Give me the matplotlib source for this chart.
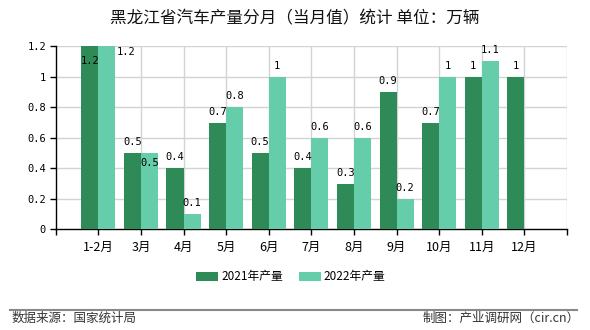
import matplotlib
matplotlib.use("Agg")
import matplotlib.pyplot as plt
from matplotlib.lines import Line2D
import numpy as np

plt.rcParams['font.family'] = ['Noto Sans CJK SC', 'DejaVu Sans']

categories = ["1-2月", "3月", "4月", "5月", "6月", "7月", "8月", "9月", "10月", "11月", "12月"]
values_2021 = [1.2, 0.5, 0.4, 0.7, 0.5, 0.4, 0.3, 0.9, 0.7, 1, 1]
values_2022 = [1.2, 0.5, 0.1, 0.8, 1, 0.6, 0.6, 0.2, 1, 1.1, None]
series_names = ["2021年产量", "2022年产量"]
colors = ["#2e8b57", "#66cdaa"]
title = "黑龙江省汽车产量分月（当月值）统计 单位：万辆"
source_text = "数据来源：国家统计局"
credit_text = "制图：产业调研网（cir.cn）"
yticks = [0, 0.2, 0.4, 0.6, 0.8, 1, 1.2]

fig = plt.figure(figsize=(5.9, 3.3), dpi=100)
ax = fig.add_axes([0.0944, 0.305, 0.961 - 0.0944, 0.860 - 0.305])

x = np.arange(len(categories))
w = 0.4
ymax = 1.2

for si, (vals, col) in enumerate(zip([values_2021, values_2022], colors)):
    xs = [xi for xi, v in zip(x, vals) if v is not None]
    vs = [v for v in vals if v is not None]
    ax.bar(np.array(xs) + (-w if si == 0 else 0), vs, width=w, align='edge',
           color=col, zorder=3, label=series_names[si])

mono = 'DejaVu Sans Mono'
lab_size = 7.5
for i in range(len(categories)):
    v1 = values_2021[i]
    v2 = values_2022[i]
    if v1 is not None:
        cx = x[i] - w / 2
        if v1 >= ymax:
            ax.annotate(f"{v1:g}", (cx, v1), xytext=(0, -10), textcoords='offset pixels',
                        ha='center', va='top', fontsize=lab_size, family=mono, zorder=5)
        else:
            ax.annotate(f"{v1:g}", (cx, v1), xytext=(0, 6), textcoords='offset pixels',
                        ha='center', va='bottom', fontsize=lab_size, family=mono, zorder=5)
    if v2 is not None:
        cx = x[i] + w / 2
        if v2 >= ymax:
            ax.annotate(f"{v2:g}", (x[i] + w, v2), xytext=(1, -1), textcoords='offset pixels',
                        ha='left', va='top', fontsize=lab_size, family=mono, zorder=5)
        elif v1 is not None and v1 == v2:
            ax.annotate(f"{v2:g}", (cx, v2), xytext=(0, -5), textcoords='offset pixels',
                        ha='center', va='top', fontsize=lab_size, family=mono, zorder=5)
        else:
            ax.annotate(f"{v2:g}", (cx, v2), xytext=(0, 6), textcoords='offset pixels',
                        ha='center', va='bottom', fontsize=lab_size, family=mono, zorder=5)

ax.set_xlim(-1, len(categories))
ax.set_ylim(0, ymax)
ax.set_yticks(yticks)
ax.set_yticklabels([f"{t:g}" for t in yticks], family=mono, fontsize=lab_size)
ax.set_xticks(np.arange(-1, len(categories) + 1))
ax.set_xticklabels([""] + categories + [""], fontsize=9)
ax.tick_params(axis='both', length=4, width=1, color='black', pad=3)
ax.tick_params(axis='x', pad=4)

for yt in yticks[1:]:
    ax.axhline(yt, color='#d3d3d3', lw=1, zorder=1)
for xt in list(x) + [len(categories)]:
    ax.axvline(xt, color='#d3d3d3', lw=1, zorder=1)

for s in ['top', 'right']:
    ax.spines[s].set_visible(False)
ax.spines['left'].set_color('black')
ax.spines['bottom'].set_color('black')
ax.spines['left'].set_linewidth(1)
ax.spines['bottom'].set_linewidth(1)

fig.text(0.5, 0.942, title, ha='center', va='center', fontsize=12, color='#111111')

leg = fig.legend(loc='center', bbox_to_anchor=(0.493, 0.161), ncol=2, frameon=False,
                 fontsize=8.5, handlelength=1.85, handleheight=0.75, handletextpad=0.25,
                 columnspacing=1.35)

fig.add_artist(Line2D([10 / 590, 577 / 590], [0.061, 0.061], color='#888888', lw=1.5,
                      transform=fig.transFigure))
fig.text(12 / 590, 0.036, source_text, ha='left', va='center', fontsize=9, color='#333333')
fig.text(580 / 590, 0.036, credit_text, ha='right', va='center', fontsize=9, color='#333333')

fig.savefig("out.png", dpi=100)
